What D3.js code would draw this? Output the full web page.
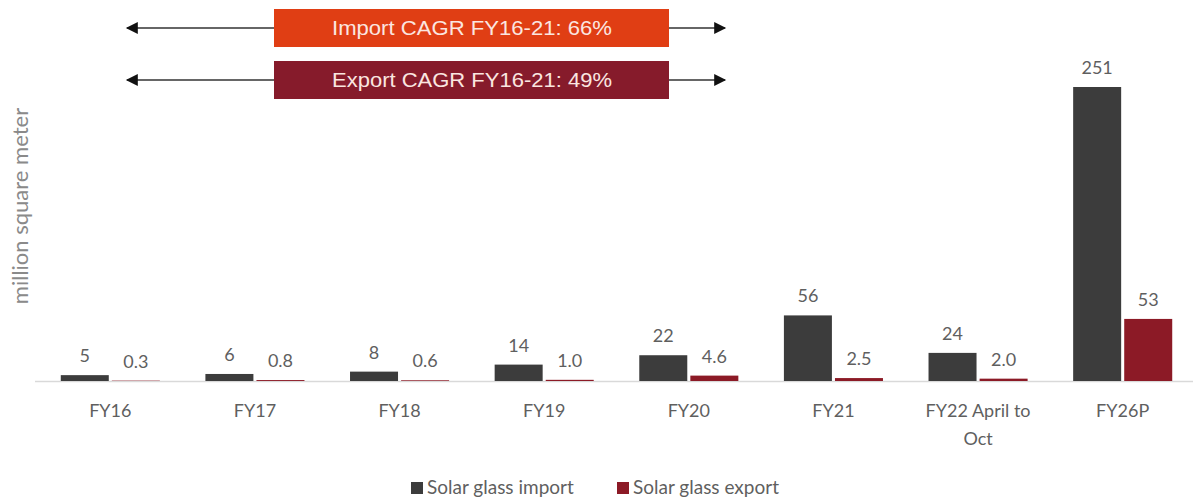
<!DOCTYPE html>
<html>
<head>
<meta charset="utf-8">
<script src="https://cdn.jsdelivr.net/npm/d3@7"></script>
<style>
  body { margin: 0; background: #fff; }
</style>
</head>
<body>
<div id="chart"></div>
<script>
// chart data
var categories = ["FY16", "FY17", "FY18", "FY19", "FY20", "FY21", "FY22 April to Oct", "FY26P"];
var importVals = [5, 6, 8, 14, 22, 56, 24, 251];
var exportVals = [0.3, 0.8, 0.6, 1.0, 4.6, 2.5, 2.0, 53];
var importLabels = ["5", "6", "8", "14", "22", "56", "24", "251"];
var exportLabels = ["0.3", "0.8", "0.6", "1.0", "4.6", "2.5", "2.0", "53"];
var seriesNames = ["Solar glass import", "Solar glass export"];
var cagrNotes = ["Import CAGR FY16-21: 66%", "Export CAGR FY16-21: 49%"];

var width = 1193, height = 501;
var baseline = 381;
var colImport = "#3c3c3c", colExport = "#8c1a26";
var boxCols = ["#e03e14", "#861b2b"];
var textGrey = "#5f5f5f";
var font = "Lato, 'Open Sans', sans-serif";

var svg = d3.select("#chart").append("svg")
    .attr("width", width)
    .attr("height", height)
    .style("font-family", font);

// arrow marker
var defs = svg.append("defs");
defs.append("marker")
    .attr("id", "arr")
    .attr("viewBox", "0 0 10 10")
    .attr("refX", 9).attr("refY", 5)
    .attr("markerWidth", 13).attr("markerHeight", 12)
    .attr("markerUnits", "userSpaceOnUse")
    .attr("orient", "auto-start-reverse")
    .append("path")
    .attr("d", "M0,0 L10,5 L0,10 z")
    .attr("fill", "#111");

var x0 = d3.scaleBand()
    .domain(categories)
    .range([38, 1195])
    .paddingInner(0.315)
    .paddingOuter(0.1575);

var x1 = d3.scaleBand()
    .domain(["import", "export"])
    .range([0, x0.bandwidth()])
    .paddingInner(0.06);

var y = d3.scaleLinear()
    .domain([0, 251])
    .range([baseline, 87]);

// y title
svg.append("text")
    .attr("transform", "translate(28," + 206 + ") rotate(-90)")
    .attr("text-anchor", "middle")
    .attr("font-size", 22)
    .attr("fill", "#8a8a8a")
    .text("million square meter");

// axis line
svg.append("line")
    .attr("x1", 35).attr("x2", width)
    .attr("y1", baseline + 0.5).attr("y2", baseline + 0.5)
    .attr("stroke", "#d9d9d9")
    .attr("stroke-width", 1.5);

var groups = svg.selectAll(".grp")
    .data(categories)
    .enter().append("g")
    .attr("class", "grp")
    .attr("transform", function (d) { return "translate(" + x0(d) + ",0)"; });

groups.append("rect")
    .attr("x", x1("import"))
    .attr("width", x1.bandwidth())
    .attr("y", function (d, i) { return y(importVals[i]); })
    .attr("height", function (d, i) { return baseline - y(importVals[i]); })
    .attr("fill", colImport);

groups.append("rect")
    .attr("x", x1("export"))
    .attr("width", x1.bandwidth())
    .attr("y", function (d, i) { return y(exportVals[i]); })
    .attr("height", function (d, i) { return baseline - y(exportVals[i]); })
    .attr("fill", colExport);

// value labels
groups.append("text")
    .attr("x", x1("import") + x1.bandwidth() / 2)
    .attr("y", function (d, i) { return y(importVals[i]) - 13; })
    .attr("text-anchor", "middle")
    .attr("font-size", 18)
    .attr("fill", textGrey)
    .text(function (d, i) { return importLabels[i]; });

groups.append("text")
    .attr("x", x1("export") + x1.bandwidth() / 2)
    .attr("y", function (d, i) { return y(exportVals[i]) - 13; })
    .attr("text-anchor", "middle")
    .attr("font-size", 18)
    .attr("fill", textGrey)
    .text(function (d, i) { return exportLabels[i]; });

// category labels, wrapped
groups.each(function (d) {
    var lines = d === "FY22 April to Oct" ? ["FY22 April to", "Oct"] : [d];
    var t = d3.select(this).append("text")
        .attr("text-anchor", "middle")
        .attr("font-size", 18)
        .attr("fill", textGrey);
    lines.forEach(function (l, k) {
        t.append("tspan")
            .attr("x", x0.bandwidth() / 2)
            .attr("y", 417 + k * 28)
            .text(l);
    });
});

// CAGR annotations
cagrNotes.forEach(function (note, i) {
    var cy = 28 + i * 52;
    svg.append("line")
        .attr("x1", 127).attr("x2", 725)
        .attr("y1", cy).attr("y2", cy)
        .attr("stroke", "#666")
        .attr("stroke-width", 2)
        .attr("marker-start", "url(#arr)")
        .attr("marker-end", "url(#arr)");
    svg.append("rect")
        .attr("x", 274).attr("y", cy - 19)
        .attr("width", 395).attr("height", 38)
        .attr("fill", boxCols[i]);
    svg.append("text")
        .attr("x", 472).attr("y", cy + 7)
        .attr("text-anchor", "middle")
        .style("font-family", "'Liberation Sans Narrow', 'Liberation Sans', Arial, sans-serif")
        .attr("font-size", 20)
        .attr("textLength", 280)
        .attr("lengthAdjust", "spacingAndGlyphs")
        .attr("fill", "#fbe6e0")
        .text(note);
});

// legend
var legendX = [411, 617];
seriesNames.forEach(function (s, i) {
    var g = svg.append("g").attr("transform", "translate(" + legendX[i] + ",482)");
    g.append("rect")
        .attr("width", 12).attr("height", 12)
        .attr("fill", i === 0 ? colImport : colExport);
    g.append("text")
        .attr("x", 16).attr("y", 12)
        .attr("font-size", 19)
        .attr("fill", textGrey)
        .text(s);
});
</script>
</body>
</html>
